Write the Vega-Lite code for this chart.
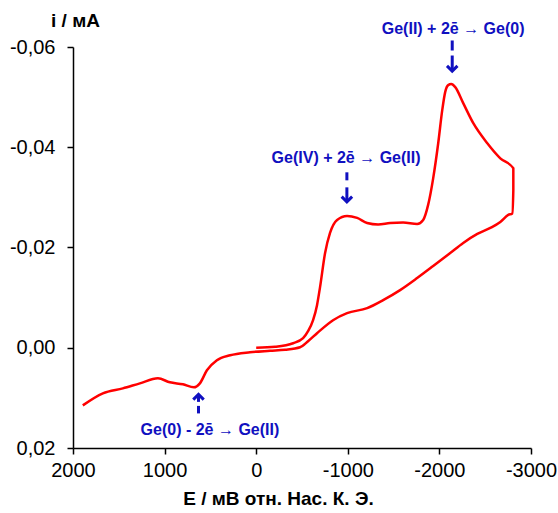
{
  "$schema": "https://vega.github.io/schema/vega-lite/v6.json",
  "autosize": "none",
  "width": 458,
  "height": 401,
  "padding": {"left": 73, "top": 47, "right": 27, "bottom": 65},
  "background": "white",
  "config": {
    "view": {"stroke": null},
    "font": "Liberation Sans",
    "axis": {
      "grid": false,
      "labelFlush": false,
      "domainColor": "black",
      "domainWidth": 1.5,
      "tickColor": "black",
      "tickWidth": 1.5,
      "tickSize": 6,
      "labelFont": "Liberation Sans",
      "labelFontSize": 20,
      "labelColor": "black",
      "titleFont": "Liberation Sans",
      "titleFontSize": 19,
      "titleFontWeight": "bold",
      "titleColor": "black"
    }
  },
  "layer": [
    {
      "data": {"values": [
        {"t": 1, "E": 0, "i": 0.0000},
        {"t": 2, "E": -206, "i": -0.0002},
        {"t": 3, "E": -403, "i": -0.0009},
        {"t": 4, "E": -512, "i": -0.0019},
        {"t": 5, "E": -566, "i": -0.0033},
        {"t": 6, "E": -621, "i": -0.0055},
        {"t": 7, "E": -664, "i": -0.0085},
        {"t": 8, "E": -697, "i": -0.0121},
        {"t": 9, "E": -752, "i": -0.0189},
        {"t": 10, "E": -806, "i": -0.0229},
        {"t": 11, "E": -883, "i": -0.0255},
        {"t": 12, "E": -992, "i": -0.0263},
        {"t": 13, "E": -1102, "i": -0.0259},
        {"t": 14, "E": -1211, "i": -0.0249},
        {"t": 15, "E": -1331, "i": -0.0246},
        {"t": 16, "E": -1462, "i": -0.0249},
        {"t": 17, "E": -1604, "i": -0.0250},
        {"t": 18, "E": -1757, "i": -0.0247},
        {"t": 19, "E": -1823, "i": -0.0255},
        {"t": 20, "E": -1877, "i": -0.0285},
        {"t": 21, "E": -1932, "i": -0.0338},
        {"t": 22, "E": -1987, "i": -0.0408},
        {"t": 23, "E": -2031, "i": -0.0474},
        {"t": 24, "E": -2063, "i": -0.0510},
        {"t": 25, "E": -2096, "i": -0.0524},
        {"t": 26, "E": -2129, "i": -0.0526},
        {"t": 27, "E": -2173, "i": -0.0520},
        {"t": 28, "E": -2260, "i": -0.0488},
        {"t": 29, "E": -2370, "i": -0.0448},
        {"t": 30, "E": -2523, "i": -0.0408},
        {"t": 31, "E": -2665, "i": -0.0378},
        {"t": 32, "E": -2807, "i": -0.0358},
        {"t": 33, "E": -2807, "i": -0.0314},
        {"t": 34, "E": -2796, "i": -0.0268},
        {"t": 35, "E": -2752, "i": -0.0265},
        {"t": 36, "E": -2665, "i": -0.0251},
        {"t": 37, "E": -2556, "i": -0.0239},
        {"t": 38, "E": -2414, "i": -0.0227},
        {"t": 39, "E": -2260, "i": -0.0209},
        {"t": 40, "E": -2118, "i": -0.0189},
        {"t": 41, "E": -1932, "i": -0.0163},
        {"t": 42, "E": -1757, "i": -0.0139},
        {"t": 43, "E": -1571, "i": -0.0115},
        {"t": 44, "E": -1386, "i": -0.0095},
        {"t": 45, "E": -1211, "i": -0.0079},
        {"t": 46, "E": -992, "i": -0.0069},
        {"t": 47, "E": -839, "i": -0.0055},
        {"t": 48, "E": -664, "i": -0.0029},
        {"t": 49, "E": -566, "i": -0.0013},
        {"t": 50, "E": -479, "i": -0.0001},
        {"t": 51, "E": -315, "i": 0.0004},
        {"t": 52, "E": -151, "i": 0.0006},
        {"t": 53, "E": 68, "i": 0.0009},
        {"t": 54, "E": 284, "i": 0.0015},
        {"t": 55, "E": 429, "i": 0.0025},
        {"t": 56, "E": 538, "i": 0.0045},
        {"t": 57, "E": 615, "i": 0.0071},
        {"t": 58, "E": 680, "i": 0.0079},
        {"t": 59, "E": 800, "i": 0.0073},
        {"t": 60, "E": 942, "i": 0.0069},
        {"t": 61, "E": 1073, "i": 0.0061},
        {"t": 62, "E": 1270, "i": 0.0071},
        {"t": 63, "E": 1456, "i": 0.0081},
        {"t": 64, "E": 1674, "i": 0.0091},
        {"t": 65, "E": 1893, "i": 0.0115}
      ]},
      "mark": {"type": "line", "color": "#ff0000", "strokeWidth": 2.5, "interpolate": "monotone", "clip": false},
      "encoding": {
        "x": {
          "field": "E", "type": "quantitative",
          "scale": {"domain": [-3000, 2000], "reverse": true, "nice": false, "zero": false},
          "axis": {
            "values": [2000, 1000, 0, -1000, -2000, -3000],
            "labelExpr": "(datum.value < 0 ? '-' : '') + format(abs(datum.value), 'd')",
            "labelPadding": 6,
            "title": "E / мВ отн. Нас. К. Э.",
            "titleAnchor": "start",
            "titleAlign": "center",
            "titleBaseline": "middle",
            "titleX": 205,
            "titleY": 50
          }
        },
        "y": {
          "field": "i", "type": "quantitative",
          "scale": {"domain": [-0.06, 0.02], "reverse": true, "nice": false, "zero": false},
          "axis": {
            "values": [-0.06, -0.04, -0.02, 0, 0.02],
            "labelExpr": "(datum.value < -0.000001 ? '-' : '') + replace(format(abs(datum.value), '.2f'), '.', ',')",
            "labelPadding": 12,
            "title": "i / мА",
            "titleAngle": 0,
            "titleAlign": "center",
            "titleBaseline": "middle",
            "titleX": 2,
            "titleY": -27
          }
        },
        "order": {"field": "t", "type": "quantitative"}
      }
    },
    {
      "data": {"values": [
        {"E": -2140, "a": -0.0613, "b": -0.0593},
        {"E": -2140, "a": -0.0583, "b": -0.0553},
        {"E": -990, "a": -0.0350, "b": -0.0334},
        {"E": -990, "a": -0.0320, "b": -0.0292},
        {"E": 630, "a": 0.0094, "b": 0.0108},
        {"E": 630, "a": 0.0116, "b": 0.0131}
      ]},
      "mark": {"type": "rule", "color": "#1010c0", "strokeWidth": 3, "clip": false},
      "encoding": {
        "x": {"field": "E", "type": "quantitative"},
        "y": {"field": "a", "type": "quantitative"},
        "y2": {"field": "b"}
      }
    },
    {
      "data": {"values": [
        {"E": -2140, "i": -0.0552, "s": "M-1,-1L0,0L1,-1"},
        {"E": -990, "i": -0.0291, "s": "M-1,-1L0,0L1,-1"},
        {"E": 630, "i": 0.0093, "s": "M-1,1L0,0L1,1"}
      ]},
      "mark": {"type": "point", "filled": false, "color": "#1010c0", "strokeWidth": 3, "size": 110, "opacity": 1, "clip": false},
      "encoding": {
        "x": {"field": "E", "type": "quantitative"},
        "y": {"field": "i", "type": "quantitative"},
        "shape": {"field": "s", "type": "nominal", "scale": null}
      }
    },
    {
      "data": {"values": [
        {"E": -2150, "i": -0.0635, "label": "Ge(II) + 2ē → Ge(0)"},
        {"E": -981, "i": -0.0378, "label": "Ge(IV) + 2ē → Ge(II)"},
        {"E": 505, "i": 0.0164, "label": "Ge(0) - 2ē → Ge(II)"}
      ]},
      "mark": {"type": "text", "color": "#1010c0", "fontSize": 16, "fontWeight": "bold", "font": "Liberation Sans", "align": "center", "baseline": "middle", "clip": false},
      "encoding": {
        "x": {"field": "E", "type": "quantitative"},
        "y": {"field": "i", "type": "quantitative"},
        "text": {"field": "label"}
      }
    }
  ]
}
